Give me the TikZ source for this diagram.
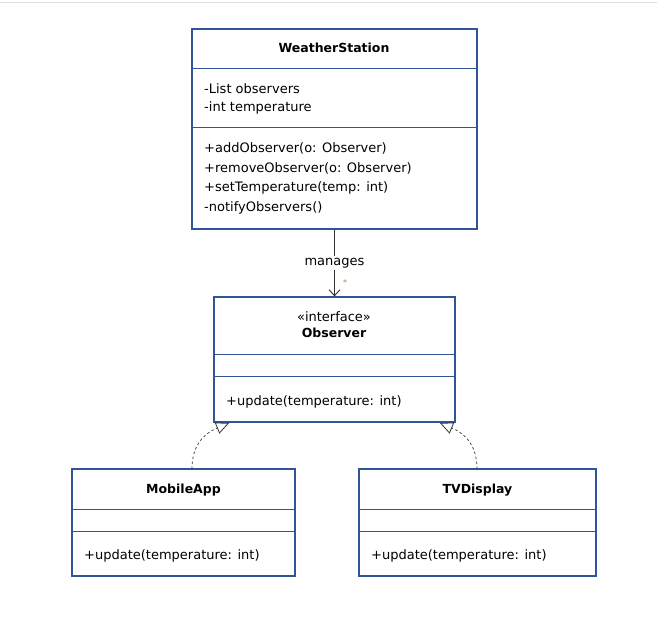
\documentclass[tikz,border=0pt]{standalone}
\usepackage{fontspec}
\setmainfont{DejaVu Sans}
\usetikzlibrary{arrows.meta}
\definecolor{boxblue}{HTML}{2F5597}
\definecolor{arrgray}{HTML}{333333}
\definecolor{topgray}{HTML}{DDDDDD}
\definecolor{multorange}{HTML}{D07030}
\tikzset{
  umlbox/.style={draw=boxblue, line width=1.3pt, fill=white, inner sep=0pt},
  divider/.style={draw=boxblue, line width=1pt},
  txt/.style={anchor=west, inner sep=0pt, font=\fontsize{13}{14}\selectfont},
  ttl/.style={inner sep=0pt, font=\fontsize{12.5}{14}\selectfont\bfseries},
  conn/.style={draw=arrgray, line width=0.9pt},
  real/.style={draw=arrgray, line width=0.7pt, dash pattern=on 2.5pt off 2.5pt, -{Triangle[open, length=13pt, width=12pt, line width=0.8pt]}},
}
\begin{document}
\begin{tikzpicture}[x=1pt, y=-1pt]
\useasboundingbox (0,0) rectangle (657,618);
\fill[white] (0,0) rectangle (657,618);
\draw[topgray, line width=1pt] (0,3) -- (657,3);

% WeatherStation
\node[umlbox, minimum width=285pt, minimum height=200pt] (ws) at (334.5,129) {};
\draw[divider] (ws.west |- 0,69) -- (ws.east |- 0,69);
\draw[divider] (ws.west |- 0,128) -- (ws.east |- 0,128);
\node[ttl] (wst) at (334,48) {WeatherStation};
\node[txt] (wsa1) at (204,89) {-List observers};
\node[txt] (wsa2) at (204,108) {-int temperature};
\node[txt] (wsm1) at (204,148) {+addObserver(o: Observer)};
\node[txt] (wsm2) at (204,168) {+removeObserver(o: Observer)};
\node[txt] (wsm3) at (204,188) {+setTemperature(temp: int)};
\node[txt] (wsm4) at (204,208) {-notifyObservers()};

% Observer
\node[umlbox, minimum width=241pt, minimum height=125pt] (obs) at (334.5,359.5) {};
\draw[divider] (obs.west |- 0,354) -- (obs.east |- 0,354);
\draw[divider] (obs.west |- 0,376) -- (obs.east |- 0,376);
\node[inner sep=0pt, font=\fontsize{13}{14}\selectfont] (obsst) at (334,317) {«interface»};
\node[ttl] (obst) at (334,333) {Observer};
\node[txt] (obsm) at (226,402) {+update(temperature: int)};

% MobileApp
\node[umlbox, minimum width=223pt, minimum height=107pt] (mob) at (183.5,522.5) {};
\draw[divider] (mob.west |- 0,509) -- (mob.east |- 0,509);
\draw[divider] (mob.west |- 0,531) -- (mob.east |- 0,531);
\node[ttl] (mobt) at (183.5,490) {MobileApp};
\node[txt] (mobm) at (84,556) {+update(temperature: int)};

% TVDisplay
\node[umlbox, minimum width=237pt, minimum height=107pt] (tv) at (477.5,522.5) {};
\draw[divider] (tv.west |- 0,509) -- (tv.east |- 0,509);
\draw[divider] (tv.west |- 0,531) -- (tv.east |- 0,531);
\node[ttl] (tvt) at (477.5,490) {TVDisplay};
\node[txt] (tvm) at (371,556) {+update(temperature: int)};

% association
\draw[conn, -{Straight Barb[length=6pt, width=11pt]}] (ws.south) -- node[fill=white, inner sep=2pt, font=\fontsize{13}{14}\selectfont] (lbl) {manages} (obs.north);
\node[text=multorange, inner sep=0pt, font=\fontsize{8}{8}\selectfont] (mult) at (345,283) {*};

% realizations
\coordinate (mtop) at (192,469);
\coordinate (otipL) at (229,423);
\coordinate (ttop) at (477,469);
\coordinate (otipR) at (440,423);
\draw[real] (mtop) .. controls (192,446) and (203,434) .. (otipL);
\draw[real] (ttop) .. controls (477,446) and (466,434) .. (otipR);
\end{tikzpicture}
\end{document}
